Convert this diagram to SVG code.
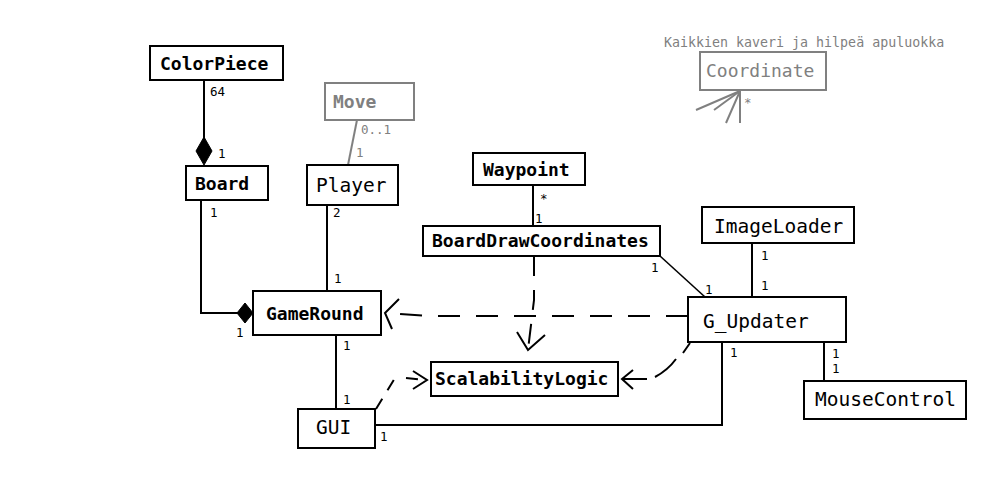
<svg xmlns="http://www.w3.org/2000/svg" width="993" height="500" viewBox="0 0 993 500">
<style>
.box{fill:#fff;stroke:#000;stroke-width:2}
.gbox{fill:#fff;stroke:#808080;stroke-width:2}
.tb{font-family:"DejaVu Sans Mono",monospace;font-weight:bold;font-size:18px;fill:#000}
.tr{font-family:"DejaVu Sans Mono",monospace;font-size:19.5px;fill:#000}
.tg{font-family:"DejaVu Sans Mono",monospace;font-weight:bold;font-size:18px;fill:#808080}
.lbl{font-family:"DejaVu Sans Mono",monospace;font-size:12.5px;fill:#000}
.glbl{font-family:"DejaVu Sans Mono",monospace;font-size:12.5px;fill:#808080}
.note{font-family:"DejaVu Sans Mono",monospace;font-size:13.3px;fill:#808080}
.ln{fill:none;stroke:#000;stroke-width:2}
.gln{fill:none;stroke:#808080;stroke-width:2}
.dash{fill:none;stroke:#000;stroke-width:2;stroke-dasharray:22,16}
.arr{fill:none;stroke:#000;stroke-width:2}
.dia{fill:#000;stroke:#000;stroke-width:1}
</style>
<rect width="993" height="500" fill="#fff"/>
<g id="connectors">
  <line class="ln" x1="204" y1="80" x2="204" y2="140"/>
  <polygon class="dia" points="204,137 212,151 204,165 196,151"/>
  <text class="lbl" x="210" y="96">64</text>
  <text class="lbl" x="218" y="158">1</text>
  <line class="gln" x1="357" y1="120" x2="348" y2="165"/>
  <text class="glbl" x="361" y="134">0..1</text>
  <text class="glbl" x="356" y="157">1</text>
  <polyline class="ln" points="201,200 201,313 238,313"/>
  <polygon class="dia" points="237,313 245,303 253,313 245,323"/>
  <text class="lbl" x="210" y="217">1</text>
  <text class="lbl" x="236" y="337">1</text>
  <line class="ln" x1="327" y1="205" x2="327" y2="291"/>
  <text class="lbl" x="333" y="217">2</text>
  <text class="lbl" x="334" y="283">1</text>
  <line class="ln" x1="336" y1="335" x2="336" y2="409"/>
  <text class="lbl" x="343" y="350">1</text>
  <text class="lbl" x="343" y="404">1</text>
  <polyline class="ln" points="375,425 722,425 722,342"/>
  <text class="lbl" x="380" y="441">1</text>
  <text class="lbl" x="730" y="357">1</text>
  <line class="ln" x1="533" y1="185" x2="533" y2="226"/>
  <text class="lbl" x="540" y="203">*</text>
  <text class="lbl" x="535" y="223">1</text>
  <line class="ln" x1="660" y1="256" x2="705" y2="297" style="stroke-width:1.6"/>
  <text class="lbl" x="651" y="272">1</text>
  <text class="lbl" x="705" y="294">1</text>
  <line class="ln" x1="752" y1="243" x2="752" y2="297"/>
  <text class="lbl" x="761" y="260">1</text>
  <text class="lbl" x="761" y="290">1</text>
  <line class="ln" x1="824" y1="342" x2="824" y2="381"/>
  <text class="lbl" x="832" y="358">1</text>
  <text class="lbl" x="832" y="373">1</text>
  <polyline class="dash" points="688,316 430,316 385,313"/>
  <polyline class="arr" points="399,299 385,313 392,329"/>
  <polyline class="dash" points="534,256 534,300 528,350" style="stroke-dasharray:20,14"/>
  <polyline class="arr" points="517,332 528,350 545,335"/>
  <path class="dash" d="M690,343 L683,353 M676,359 Q668,370 655,377 M647,379 L622,379" style="stroke-dasharray:none"/>
  <polyline class="arr" points="633,370 622,379 633,389"/>
  <path class="dash" d="M376,409 L395,378 M406,378 L427,380" style="stroke-dasharray:12,10"/>
  <polyline class="arr" points="413,371 427,380 413,389"/>
  <line class="gln" x1="740" y1="91" x2="696" y2="110"/>
  <line class="gln" x1="740" y1="91" x2="714" y2="110"/>
  <line class="gln" x1="740" y1="91" x2="726" y2="123"/>
  <line class="gln" x1="740" y1="91" x2="740" y2="123"/>
  <text class="glbl" x="744" y="107">*</text>
</g>
<g id="ColorPiece"><rect class="box" x="150" y="46" width="133" height="34"/><text class="tb" x="160" y="70">ColorPiece</text></g>
<g id="Board"><rect class="box" x="186" y="166" width="82" height="34"/><text class="tb" x="195" y="190">Board</text></g>
<g id="Move"><rect class="gbox" x="325" y="83" width="89" height="37"/><text class="tg" x="333" y="108">Move</text></g>
<g id="Player"><rect class="box" x="307" y="165" width="91" height="40"/><text class="tr" x="316" y="192">Player</text></g>
<g id="Waypoint"><rect class="box" x="473" y="153" width="112" height="32"/><text class="tb" x="483" y="176">Waypoint</text></g>
<g id="BoardDrawCoordinates"><rect class="box" x="423" y="226" width="237" height="30"/><text class="tb" x="432" y="247">BoardDrawCoordinates</text></g>
<g id="ImageLoader"><rect class="box" x="702" y="207" width="152" height="36"/><text class="tr" x="714" y="233">ImageLoader</text></g>
<g id="GameRound"><rect class="box" x="253" y="291" width="128" height="44"/><text class="tb" x="266" y="320">GameRound</text></g>
<g id="G_Updater"><rect class="box" x="688" y="297" width="158" height="45"/><text class="tr" x="703" y="328">G_Updater</text></g>
<g id="ScalabilityLogic"><rect class="box" x="431" y="362" width="187" height="34"/><text class="tb" x="435" y="385">ScalabilityLogic</text></g>
<g id="GUI"><rect class="box" x="298" y="409" width="77" height="39"/><text class="tr" x="316" y="434">GUI</text></g>
<g id="MouseControl"><rect class="box" x="804" y="381" width="162" height="38"/><text class="tr" x="815" y="406">MouseControl</text></g>
<g id="Coordinate"><rect class="gbox" x="700" y="52" width="126" height="38"/><text class="tg" x="706" y="77" style="font-weight:normal">Coordinate</text><text class="note" x="664" y="47">Kaikkien kaveri ja hilpeä apuluokka</text></g>
</svg>
